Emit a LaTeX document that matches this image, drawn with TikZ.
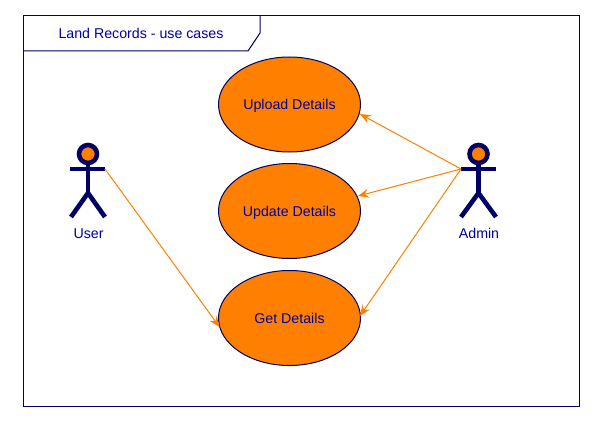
\documentclass[tikz,border=0pt]{standalone}
\usepackage{fontspec}
\setmainfont{Liberation Sans}
\usetikzlibrary{arrows.meta}
\usetikzlibrary{shapes.geometric}
\definecolor{navyd}{HTML}{000066}
\definecolor{orng}{HTML}{FF8000}
\definecolor{txtb}{HTML}{0000A0}
\tikzset{
  x=1pt,y=-1pt,
  framebox/.style={draw=navyd,line width=1pt},
  usecase/.style={ellipse,draw=navyd,fill=orng,line width=1pt,minimum width=142pt,minimum height=95pt,inner sep=0pt,text=txtb,font=\fontsize{14.2}{16}\selectfont,text height=14pt,text depth=3pt},
  stick/.style={draw=navyd,line width=4.6pt},
  head/.style={circle,draw=navyd,fill=orng,line width=4.6pt,minimum size=18pt,inner sep=0pt},
  lbl/.style={text=txtb,font=\fontsize{14.2}{16}\selectfont,inner sep=0pt,text height=14pt,text depth=3pt},
  assoc/.style={draw=orng,line width=1pt,-{Stealth[length=11pt,width=9pt,inset=4pt]}}
}
\begin{document}
\begin{tikzpicture}
\useasboundingbox (0,0) rectangle (604,433);
\fill[white] (0,0) rectangle (604,433);
% frame and tab
\draw[framebox] (23.5,15.5) rectangle (579.5,406.5);
\draw[framebox] (23.5,51) -- (248,51) -- (260,33) -- (260,15.5);
\node[lbl] (title) at (141,33.5) {Land Records - use cases};
% use cases
\node[usecase] (up) at (289.5,104.5) {Upload Details};
\node[usecase] (ud) at (289.5,211) {Update Details};
\node[usecase] (gd) at (289.5,318) {Get Details};
% user
\node[head] (uh) at (88,154) {};
\draw[stick] (uh.south) -- (88,193) coordinate (ub);
\draw[stick] (70,169) -- (105,169) coordinate (uarm);
\draw[stick] (71,217) -- (ub) -- (105,217);
\node[lbl] (ul) at (88.5,233) {User};
% admin
\node[head] (ah) at (478.5,154) {};
\draw[stick] (ah.south) -- (478.5,193) coordinate (ab);
\draw[stick] (461,169) coordinate (aarm) -- (496,169);
\draw[stick] (461,217) -- (ab) -- (496,217);
\node[lbl] (al) at (479,233) {Admin};
% connectors
\coordinate (gdw) at (219.5,327);
\coordinate (upe) at (360,114);
\coordinate (ude) at (358,196);
\coordinate (gde) at (360,316);
\draw[assoc] (uarm) -- (gdw);
\draw[assoc] (aarm) -- (upe);
\draw[assoc] (aarm) -- (ude);
\draw[assoc] (aarm) -- (gde);
\end{tikzpicture}
\end{document}
